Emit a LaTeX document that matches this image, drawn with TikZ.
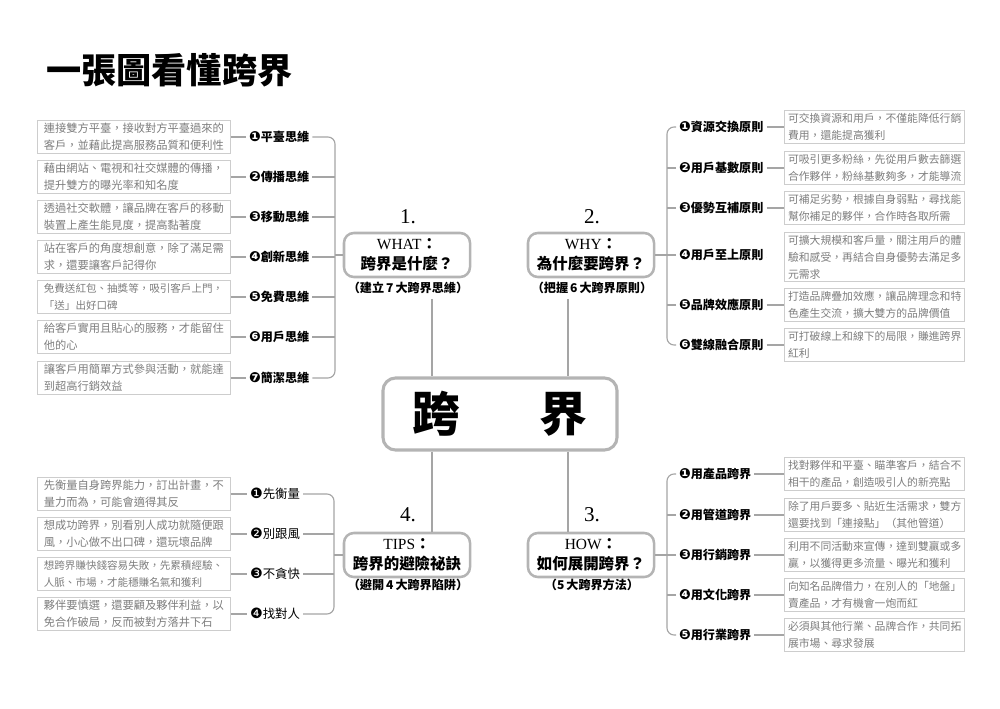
\documentclass[tikz,border=0pt]{standalone}
\usepackage{fontspec}
\setmainfont{Liberation Serif}
\newfontfamily\cjk{Noto Sans CJK TC}
\newfontfamily\dingfont{DejaVu Sans}[Scale=1.15]
\newcommand{\dn}[1]{{\dingfont #1}}
\definecolor{linegray}{RGB}{165,165,165}
\definecolor{boxgray}{RGB}{205,205,205}
\definecolor{txtgray}{RGB}{125,125,125}
\definecolor{framegray}{RGB}{180,180,180}

\begin{document}
\begin{tikzpicture}[x=0.025cm,y=-0.025cm,
	link/.style={draw=linegray,line width=0.8pt},
	descl/.style={draw=boxgray,line width=0.8pt,text=txtgray,anchor=west,align=left,
		text width=128pt,inner xsep=4.5pt,inner ysep=2pt,font=\cjk\fontsize{8}{12}\selectfont},
	descw/.style={descl,font=\cjk\fontsize{7.5}{12}\selectfont},
	descr/.style={descl,text width=123pt,inner xsep=2.5pt,font=\cjk\fontsize{7.7}{12}\selectfont},
	item/.style={anchor=west,inner sep=2pt,font=\cjk\bfseries\fontsize{8.6}{10}\selectfont},
	itemn/.style={item,font=\cjk\fontsize{8.8}{10}\selectfont},
	quad/.style={draw=framegray,line width=1.8pt,rounded corners=7pt,minimum width=3.15cm,
		minimum height=1.1cm,align=center,inner sep=1pt,font=\cjk\bfseries\fontsize{11}{14}\selectfont},
	num/.style={font=\fontsize{15}{15}\selectfont},
	sub/.style={font=\cjk\bfseries\fontsize{8.6}{10}\selectfont},
	hub/.style={draw=framegray,line width=2.2pt,rounded corners=9pt,minimum width=5.85cm,
		minimum height=1.8cm,font=\cjk\bfseries\fontsize{34}{34}\selectfont}]
	\useasboundingbox (0,0) rectangle (1000,709);

	% title
	\node[anchor=west,inner sep=0pt,font=\cjk\bfseries\fontsize{25}{25}\selectfont] (title) at (46,70) {一張圖看懂跨界};

	% centre and the four questions
	\node[hub] (hub) at (500,414) {跨\hspace{2cm}界};
	\node[quad] (what) at (407,255) {{\rmfamily\mdseries WHAT}：\\跨界是什麼？};
	\node[quad] (why) at (591,255) {{\rmfamily\mdseries WHY}：\\為什麼要跨界？};
	\node[quad] (tips) at (407,555) {{\rmfamily\mdseries TIPS}：\\跨界的避險祕訣};
	\node[quad] (how) at (591,555) {{\rmfamily\mdseries HOW}：\\如何展開跨界？};
	\node[num] (n1) at (408,217) {1.};
	\node[num] (n2) at (592,217) {2.};
	\node[num] (n4) at (408,515) {4.};
	\node[num] (n3) at (592,515) {3.};
	\node[sub] (wsub) at (408,288) {（建立\,7\,大跨界思維）};
	\node[sub] (ysub) at (592,288) {（把握\,6\,大跨界原則）};
	\node[sub] (tsub) at (408,585) {（避開\,4\,大跨界陷阱）};
	\node[sub] (hsub) at (592,585) {（5\,大跨界方法）};
	\coordinate (cl) at (432,0);
	\coordinate (cr) at (568,0);
	\draw[link] (wsub.south -| cl) -- (hub.north -| cl);
	\draw[link] (ysub.south -| cr) -- (hub.north -| cr);
	\draw[link] (hub.south -| cl) -- (tips.north -| cl);
	\draw[link] (hub.south -| cr) -- (how.north -| cr);

	% 1. what
	\node[descl] (wd1) at (37,137) {連接雙方平臺，接收對方平臺過來的\\客戶，並藉此提高服務品質和便利性};
	\node[descl] (wd2) at (37,177) {藉由網站、電視和社交媒體的傳播，\\提升雙方的曝光率和知名度};
	\node[descl] (wd3) at (37,217) {透過社交軟體，讓品牌在客戶的移動\\裝置上產生能見度，提高黏著度};
	\node[descl] (wd4) at (37,257) {站在客戶的角度想創意，除了滿足需\\求，還要讓客戶記得你};
	\node[descw] (wd5) at (37,297) {免費送紅包、抽獎等，吸引客戶上門，\\「送」出好口碑};
	\node[descl] (wd6) at (37,337) {給客戶實用且貼心的服務，才能留住\\他的心};
	\node[descl] (wd7) at (37,378) {讓客戶用簡單方式參與活動，就能達\\到超高行銷效益};
	\node[item] (w1) at (246,137) {\dn{❶}平臺思維};
	\node[item] (w2) at (246,177) {\dn{❷}傳播思維};
	\node[item] (w3) at (246,217) {\dn{❸}移動思維};
	\node[item] (w4) at (246,257) {\dn{❹}創新思維};
	\node[item] (w5) at (246,297) {\dn{❺}免費思維};
	\node[item] (w6) at (246,337) {\dn{❻}用戶思維};
	\node[item] (w7) at (246,378) {\dn{❼}簡潔思維};
	\coordinate (wt) at (335,137);
	\coordinate (wb) at (335,378);
	\draw[link] (wd1) -- (w1);
	\draw[link] (wd2) -- (w2);
	\draw[link] (wd3) -- (w3);
	\draw[link] (wd4) -- (w4);
	\draw[link] (wd5) -- (w5);
	\draw[link] (wd6) -- (w6);
	\draw[link] (wd7) -- (w7);
	\draw[link,rounded corners=5pt] (w1) -- (wt) -- (wb) -- (w7);
	\draw[link] (w2) -- (w2 -| wt);
	\draw[link] (w3) -- (w3 -| wt);
	\draw[link] (w4) -- (w4 -| wt);
	\draw[link] (w5) -- (w5 -| wt);
	\draw[link] (w6) -- (w6 -| wt);
	\draw[link] (what) -- (what -| wt);

	% 2. why
	\node[item] (y1) at (676,127) {\dn{❶}資源交換原則};
	\node[item] (y2) at (676,168) {\dn{❷}用戶基數原則};
	\node[item] (y3) at (676,208) {\dn{❸}優勢互補原則};
	\node[item] (y4) at (676,255) {\dn{❹}用戶至上原則};
	\node[item] (y5) at (676,305) {\dn{❺}品牌效應原則};
	\node[item] (y6) at (676,345) {\dn{❻}雙線融合原則};
	\node[descr] (yd1) at (784,127) {可交換資源和用戶，不僅能降低行銷\\費用，還能提高獲利};
	\node[descr] (yd2) at (784,168) {可吸引更多粉絲，先從用戶數去篩選\\合作夥伴，粉絲基數夠多，才能導流};
	\node[descr] (yd3) at (784,208) {可補足劣勢，根據自身弱點，尋找能\\幫你補足的夥伴，合作時各取所需};
	\node[descr] (yd4) at (784,257) {可擴大規模和客戶量，關注用戶的體\\驗和感受，再結合自身優勢去滿足多\\元需求};
	\node[descr] (yd5) at (784,305) {打造品牌疊加效應，讓品牌理念和特\\色產生交流，擴大雙方的品牌價值};
	\node[descr] (yd6) at (784,345) {可打破線上和線下的局限，賺進跨界\\紅利};
	\coordinate (yt) at (667,127);
	\coordinate (yb) at (667,345);
	\draw[link,rounded corners=5pt] (y1) -- (yt) -- (yb) -- (y6);
	\draw[link] (y2) -- (y2 -| yt);
	\draw[link] (y3) -- (y3 -| yt);
	\draw[link] (y4) -- (y4 -| yt);
	\draw[link] (y5) -- (y5 -| yt);
	\draw[link] (why) -- (why -| yt);
	\draw[link] (y1) -- (yd1);
	\draw[link] (y2) -- (yd2);
	\draw[link] (y3) -- (yd3);
	\draw[link] (y4) -- (yd4 -| y4.east);
	\draw[link] (y5) -- (yd5);
	\draw[link] (y6) -- (yd6);

	% 3. how
	\node[item] (h1) at (676,474) {\dn{❶}用產品跨界};
	\node[item] (h2) at (676,515) {\dn{❷}用管道跨界};
	\node[item] (h3) at (676,555) {\dn{❸}用行銷跨界};
	\node[item] (h4) at (676,595) {\dn{❹}用文化跨界};
	\node[item] (h5) at (676,635) {\dn{❺}用行業跨界};
	\node[descr] (hd1) at (784,474) {找對夥伴和平臺、瞄準客戶，結合不\\相干的產品，創造吸引人的新亮點};
	\node[descr] (hd2) at (784,515) {除了用戶要多、貼近生活需求，雙方\\還要找到「連接點」（其他管道）};
	\node[descr] (hd3) at (784,555) {利用不同活動來宣傳，達到雙贏或多\\贏，以獲得更多流量、曝光和獲利};
	\node[descr] (hd4) at (784,595) {向知名品牌借力，在別人的「地盤」\\賣產品，才有機會一炮而紅};
	\node[descr] (hd5) at (784,635) {必須與其他行業、品牌合作，共同拓\\展市場、尋求發展};
	\coordinate (ht) at (667,474);
	\coordinate (hb) at (667,635);
	\draw[link,rounded corners=5pt] (h1) -- (ht) -- (hb) -- (h5);
	\draw[link] (h2) -- (h2 -| ht);
	\draw[link] (h3) -- (h3 -| ht);
	\draw[link] (h4) -- (h4 -| ht);
	\draw[link] (how) -- (how -| ht);
	\draw[link] (h1) -- (hd1);
	\draw[link] (h2) -- (hd2);
	\draw[link] (h3) -- (hd3);
	\draw[link] (h4) -- (hd4);
	\draw[link] (h5) -- (hd5);

	% 4. tips
	\node[descl] (td1) at (37,494) {先衡量自身跨界能力，訂出計畫，不\\量力而為，可能會適得其反};
	\node[descl] (td2) at (37,534) {想成功跨界，別看別人成功就隨便跟\\風，小心做不出口碑，還玩壞品牌};
	\node[descw] (td3) at (37,574) {想跨界賺快錢容易失敗，先累積經驗、\\人脈、市場，才能穩賺名氣和獲利};
	\node[descl] (td4) at (37,614) {夥伴要慎選，還要顧及夥伴利益，以\\免合作破局，反而被對方落井下石};
	\node[itemn] (t1) at (247,494) {\dn{❶}先衡量};
	\node[itemn] (t2) at (247,534) {\dn{❷}別跟風};
	\node[itemn] (t3) at (247,574) {\dn{❸}不貪快};
	\node[itemn] (t4) at (247,614) {\dn{❹}找對人};
	\coordinate (tt) at (334,494);
	\coordinate (tb) at (334,614);
	\draw[link] (td1) -- (t1);
	\draw[link] (td2) -- (t2);
	\draw[link] (td3) -- (t3);
	\draw[link] (td4) -- (t4);
	\draw[link,rounded corners=5pt] (t1) -- (tt) -- (tb) -- (t4);
	\draw[link] (t2) -- (t2 -| tt);
	\draw[link] (t3) -- (t3 -| tt);
	\draw[link] (tips) -- (tips -| tt);
\end{tikzpicture}
\end{document}
